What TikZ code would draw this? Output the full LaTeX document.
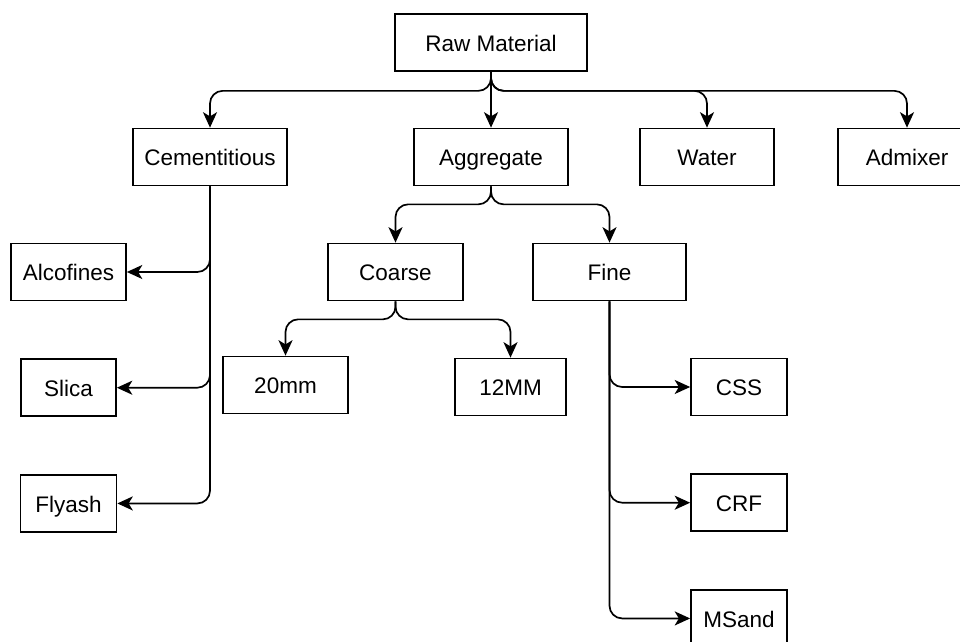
\documentclass[tikz,border=0pt]{standalone}
\usepackage{fontspec}
\setmainfont{Liberation Sans}
\usetikzlibrary{positioning,arrows.meta}

\begin{document}
\begin{tikzpicture}[x=0.025cm,y=-0.025cm,link/.style={draw,-{Stealth[length=11pt,width=10pt,inset=3pt]},line width=1.2pt,rounded corners=9pt},every node/.style={draw,line width=1.2pt,minimum height=1.425cm,inner sep=2pt,text height=12.5pt,text depth=0pt,font=\fontsize{16}{19}\selectfont}]
  \useasboundingbox (0,0) rectangle (960,642);
  \node[minimum width=4.8cm] (raw) at (491,42.5) {Raw Material};
  \node[minimum width=3.85cm] (cem) at (210,157) {Cementitious};
  \node[minimum width=3.85cm] (agg) at (491,157) {Aggregate};
  \node[minimum width=3.35cm] (water) at (707,157) {Water};
  \node[minimum width=3.45cm] (admix) at (907,157) {Admixer};
  \node[minimum width=3.375cm] (coarse) at (395.5,272) {Coarse};
  \node[minimum width=3.825cm] (fine) at (609.5,272) {Fine};
  \node[minimum width=2.875cm] (alc) at (68.5,272) {Alcofines};
  \node[minimum width=2.375cm] (slica) [below=1.425cm of alc] {Slica};
  \node[minimum width=2.4cm] (flyash) [below=1.425cm of slica] {Flyash};
  \node[minimum width=3.125cm] (mm20) at (285.5,385) {20mm};
  \node[minimum width=2.775cm] (mm12) at (510.5,387) {12MM};
  \node[minimum width=2.4cm] (css) at (739,387) {CSS};
  \node[minimum width=2.4cm] (crf) [below=1.425cm of css] {CRF};
  \node[minimum width=2.4cm] (msand) [below=1.425cm of crf] {MSand};
  \path[link] (raw.south) -- ++(0,19) -| (cem.north);
  \path[link] (raw) -- (agg);
  \path[link] (raw.south) -- ++(0,19) -| (water.north);
  \path[link] (raw.south) -- ++(0,19) -| (admix.north);
  \path[link] (agg.south) -- ++(0,18) -| (coarse.north);
  \path[link] (agg.south) -- ++(0,18) -| (fine.north);
  \path[link] (coarse.south) -- ++(0,18) -| (mm20.north);
  \path[link] (coarse.south) -- ++(0,18) -| (mm12.north);
  \path[link] (cem.south) |- (alc.east);
  \path[link] (cem.south) |- (slica.east);
  \path[link] (cem.south) |- (flyash.east);
  \path[link] (fine.south) |- (css.west);
  \path[link] (fine.south) |- (crf.west);
  \path[link] (fine.south) |- (msand.west);
\end{tikzpicture}
\end{document}
